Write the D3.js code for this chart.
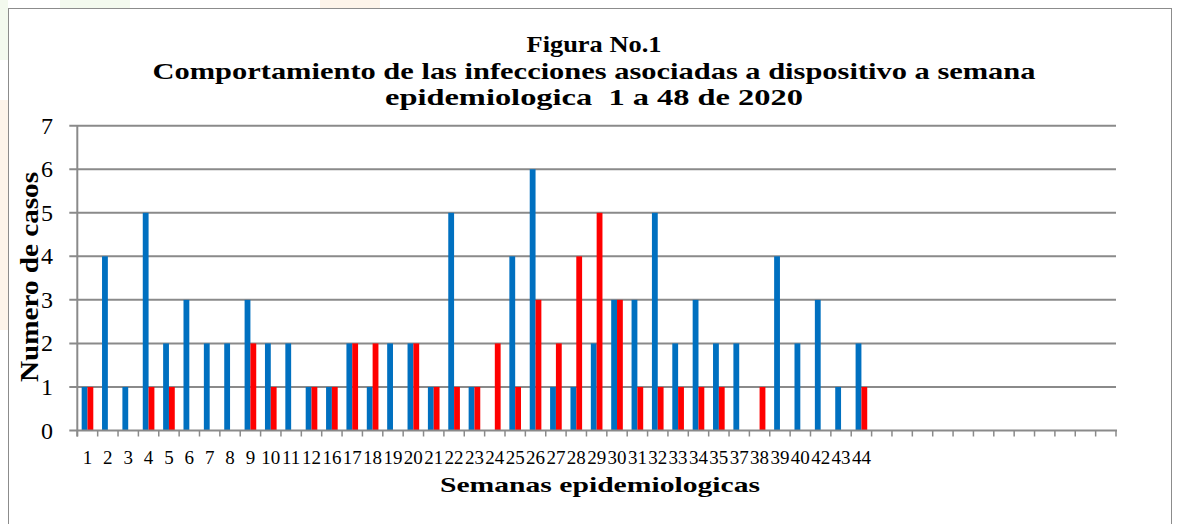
<!DOCTYPE html>
<html><head><meta charset="utf-8">
<script src="https://cdn.jsdelivr.net/npm/d3@7"></script>
<style>html,body{margin:0;padding:0;background:#fff;}svg{display:block;} text{white-space:pre;}</style>
</head><body>
<script>
const weekLabels = ["1","2","3","4","5","6","7","8","9","10","11","12","16","17","18","19","20","21","22","23","24","25","26","27","28","29","30","31","32","33","34","35","37","38","39","40","42","43","44"];
const blueValues = [1,4,1,5,2,3,2,2,3,2,2,1,1,2,1,2,2,1,5,1,0,4,6,1,1,2,3,3,5,2,3,2,2,0,4,2,3,1,2];
const redValues  = [1,0,0,1,1,0,0,0,2,1,0,1,1,2,2,0,2,1,1,1,2,1,3,2,4,5,3,1,1,1,1,1,0,1,0,0,0,0,1];
const emptySlots = 12;
const yTicks = [0,1,2,3,4,5,6,7];
const titleLines = ["Figura No.1","Comportamiento de las infecciones asociadas a dispositivo a semana","epidemiologica  1 a 48 de 2020"];

(function(){
const W = 1177, H = 524;
const svg = d3.select("body").append("svg").attr("width", W).attr("height", H);

// faint page watermark outside the chart frame
svg.append("rect").attr("x",0).attr("y",100).attr("width",8).attr("height",230).attr("fill","#fdf4ea");
svg.append("rect").attr("x",0).attr("y",0).attr("width",8).attr("height",60).attr("fill","#f3f9ee");
svg.append("rect").attr("x",60).attr("y",0).attr("width",70).attr("height",8).attr("fill","#f3f9ee");
svg.append("rect").attr("x",320).attr("y",0).attr("width",60).attr("height",8).attr("fill","#fdf4ea");

// chart frame
svg.append("rect").attr("x",8.5).attr("y",8.5).attr("width",1163).attr("height",530)
  .attr("fill","#fff").attr("stroke","#8c8c8c").attr("stroke-width",1);

const pl = 77.3, pr = 1116, pt = 125.7, pb = 430.5;
const n = weekLabels.length + emptySlots;
const cats = d3.range(n);
const x = d3.scaleBand().domain(cats).range([pl, pr]).padding(0);
const xs = d3.scaleBand().domain(["b","r"]).range([0, x.bandwidth()]).paddingInner(0).paddingOuter(0.75);
const y = d3.scaleLinear().domain([0,7]).range([pb, pt]);

// gridlines
svg.append("g").selectAll("line").data(yTicks.filter(d=>d>0)).join("line")
  .attr("x1", pl-8).attr("x2", pr).attr("y1", d=>y(d)).attr("y2", d=>y(d))
  .attr("stroke","#8a8a8a").attr("stroke-width",2);

// bars
const data = weekLabels.map((l,i)=>({i, b: blueValues[i], r: redValues[i]}));
const g = svg.append("g");
g.selectAll("rect.b").data(data).join("rect").attr("class","b")
  .attr("x", d=>x(d.i)+xs("b")).attr("width", xs.bandwidth())
  .attr("y", d=>y(d.b)).attr("height", d=>y(0)-y(d.b)).attr("fill","#0070C0");
g.selectAll("rect.r").data(data).join("rect").attr("class","r")
  .attr("x", d=>x(d.i)+xs("r")).attr("width", xs.bandwidth())
  .attr("y", d=>y(d.r)).attr("height", d=>y(0)-y(d.r)).attr("fill","#FF0000");

// x axis line and ticks
svg.append("line").attr("x1", pl-8).attr("x2", pr+1).attr("y1", y(0)).attr("y2", y(0))
  .attr("stroke","#8a8a8a").attr("stroke-width",2);
const tickXs = cats.map(c=>x(c)).concat([pr]);
svg.append("g").selectAll("line").data(tickXs).join("line")
  .attr("x1", d=>d).attr("x2", d=>d).attr("y1", y(0)).attr("y2", y(0)+6)
  .attr("stroke","#8a8a8a").attr("stroke-width",1.5);
// y axis line
svg.append("line").attr("x1", pl).attr("x2", pl).attr("y1", pt).attr("y2", y(0)+6)
  .attr("stroke","#8a8a8a").attr("stroke-width",2);

// x labels
svg.append("g").selectAll("text").data(weekLabels).join("text")
  .attr("x", (d,i)=>x(i)+x.bandwidth()/2).attr("y", 464)
  .attr("text-anchor","middle").attr("font-family","Liberation Serif").attr("font-size",19)
  .attr("fill","#000").text(d=>d);

// y labels
svg.append("g").selectAll("text").data(yTicks).join("text")
  .attr("x", 53).attr("y", d=>y(d)+8).attr("text-anchor","end")
  .attr("font-family","Liberation Serif").attr("font-size",24).attr("fill","#000").text(d=>d);

// titles
const tl = [{t:titleLines[0], y:52, w:135},{t:titleLines[1], y:79, w:883},{t:titleLines[2], y:105, w:418}];
svg.append("g").selectAll("text").data(tl).join("text")
  .attr("x", 594).attr("y", d=>d.y).attr("text-anchor","middle")
  .attr("font-family","Liberation Serif").attr("font-weight","bold").attr("font-size",24)
  .attr("textLength", d=>d.w).attr("lengthAdjust","spacingAndGlyphs").text(d=>d.t);

// axis titles
svg.append("text").attr("x", 600).attr("y", 492).attr("text-anchor","middle")
  .attr("font-family","Liberation Serif").attr("font-weight","bold").attr("font-size",21)
  .attr("textLength",320).attr("lengthAdjust","spacingAndGlyphs").text("Semanas epidemiologicas");
svg.append("text").attr("transform","translate(38,277) rotate(-90)").attr("text-anchor","middle")
  .attr("font-family","Liberation Serif").attr("font-weight","bold").attr("font-size",25)
  .attr("textLength",210).attr("lengthAdjust","spacingAndGlyphs").text("Numero de casos");
})();
</script>
</body></html>
